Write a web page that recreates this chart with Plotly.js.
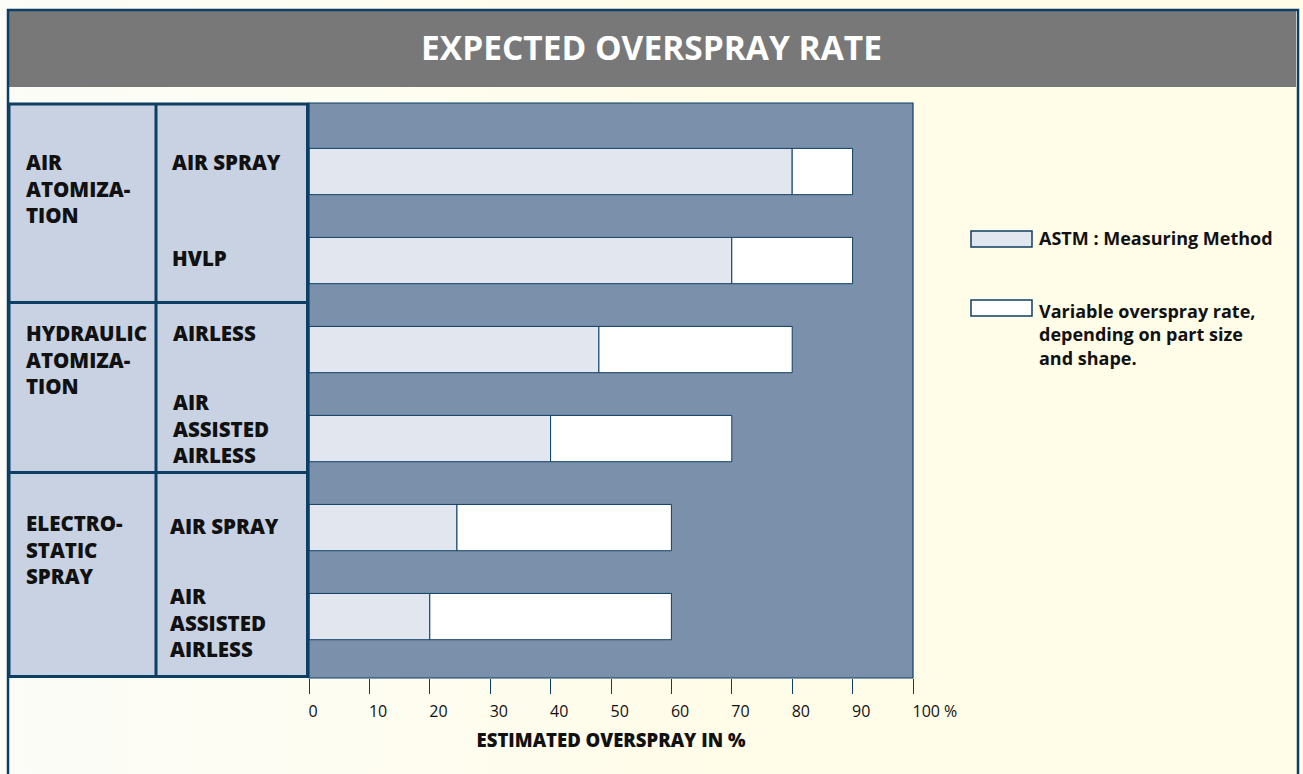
<!DOCTYPE html>
<html>
<head>
<meta charset="utf-8">
<script src="https://cdn.plot.ly/plotly-3.0.1.min.js"></script>
<style>
  html, body { margin: 0; padding: 0; }
  #chart { width: 1303px; height: 774px;
    background: linear-gradient(to right, #fcfcf8 0%, #fdfdf3 20%, #fffce8 55%, #fffce8 100%); }
</style>
</head>
<body>
<div id="chart"></div>
<script>
// ---- data ----
const groups = ["AIR<br>ATOMIZA-<br>TION", "HYDRAULIC<br>ATOMIZA-<br>TION", "ELECTRO-<br>STATIC<br>SPRAY"];
const methods = ["AIR SPRAY", "HVLP", "AIRLESS", "AIR<br>ASSISTED<br>AIRLESS", "AIR SPRAY", "AIR<br>ASSISTED<br>AIRLESS"];
const methodGroup = [0, 0, 1, 1, 2, 2];
const astmRate = [80, 70, 48, 40, 24.5, 20];          // ASTM : Measuring Method
const maxRate = [90, 90, 80, 70, 60, 60];             // upper end of variable rate
const tickValues = [0, 10, 20, 30, 40, 50, 60, 70, 80, 90, 100];
const tickLabels = ["0", "10", "20", "30", "40", "50", "60", "70", "80", "90", "100 %"];
const legendLabels = ["ASTM : Measuring Method", "Variable overspray rate,<br>depending on part size<br>and shape."];
const chartTitle = "EXPECTED OVERSPRAY RATE";
const xTitle = "ESTIMATED OVERSPRAY IN %";

// ---- layout geometry (pixels) ----
const W = 1303, H = 774, L = 309, R = 913, T = 103, B = 678;
const px = v => (v - L) / (R - L);
const py = v => (B - v) / (B - T);
const NAVY = "#0d3e64", TABLE = "#c8d2e2", PLOTBG = "#7b91ab", LIGHT = "#e2e6ef";
const FONT = "Open Sans, Lato, sans-serif";

const keys = methods.map((m, i) => groups[methodGroup[i]].replace(/<br>/g, " ") + " | " + m.replace(/<br>/g, " "));
const variablePart = maxRate.map((v, i) => v - astmRate[i]);

const traces = [
  { type: "bar", orientation: "h", y: keys, x: astmRate, name: "ASTM",
    marker: { color: LIGHT, line: { color: NAVY, width: 1 } }, hoverinfo: "x" },
  { type: "bar", orientation: "h", y: keys, x: variablePart, base: astmRate, name: "Variable",
    marker: { color: "#ffffff", line: { color: NAVY, width: 1 } }, hoverinfo: "x" }
];

const rect = (x0, y0, x1, y1, fill, lineColor, lw, layer) => ({
  type: "rect", xref: "paper", yref: "paper", x0: px(x0), x1: px(x1), y0: py(y0), y1: py(y1),
  fillcolor: fill, line: { color: lineColor, width: lw }, layer: layer || "above" });
const line = (x0, y0, x1, y1, c, lw) => ({
  type: "line", xref: "paper", yref: "paper", x0: px(x0), x1: px(x1), y0: py(y0), y1: py(y1),
  line: { color: c, width: lw }, layer: "above" });

const shapes = [
  rect(9, 11, 1296, 87, "#787878", "rgba(0,0,0,0)", 0, "below"),
  rect(8, 10, 1298, 820, "rgba(0,0,0,0)", NAVY, 2.5),
  rect(L, T, R, B, "rgba(0,0,0,0)", NAVY, 1.2),
  rect(9, 104, 307.5, 676.5, TABLE, NAVY, 3),
  line(9, 302.5, 307.5, 302.5, NAVY, 3),
  line(9, 472.5, 307.5, 472.5, NAVY, 3),
  line(156, 104, 156, 676.5, NAVY, 3),
  rect(971, 231, 1032, 247, LIGHT, NAVY, 1.5),
  rect(971, 300, 1032, 316, "#ffffff", NAVY, 1.5)
];

const groupY = [188, 359, 549.5];
const methodY = [162, 258, 333, 429, 526, 622];
const methodX = [170, 170, 171, 171, 168, 168];
const ann = (text, x, y, size, weight) => ({
  text: text, xref: "paper", yref: "paper", x: px(x), y: py(y), xanchor: "left", yanchor: "middle",
  align: "left", showarrow: false, font: { family: FONT, size: size, color: "#111111", weight: weight || 700 } });

const annotations = [];
groups.forEach((g, i) => annotations.push(ann(g, 24, groupY[i], 20.5, 800)));
methods.forEach((m, i) => annotations.push(ann(m, methodX[i], methodY[i], 20.5, 800)));
annotations.push(ann(legendLabels[0], 1037, 238, 18, 700));
annotations.push(ann(legendLabels[1], 1037, 334, 18, 700));

const layout = {
  width: W, height: H,
  margin: { l: L, r: W - R, t: T, b: H - B, pad: 0 },
  paper_bgcolor: "rgba(0,0,0,0)", plot_bgcolor: PLOTBG,
  barmode: "overlay", bargap: 0.48, showlegend: false,
  title: { text: chartTitle, x: 0.5, xref: "container", y: 1 - 48 / H, yref: "container",
    xanchor: "center", yanchor: "middle", font: { family: FONT, size: 33.5, color: "#ffffff", weight: 700 } },
  xaxis: { range: [0, 100], tickvals: tickValues, ticktext: tickLabels, ticks: "outside", ticklen: 15,
    tickcolor: NAVY, tickwidth: 1, showgrid: false, zeroline: false, showline: false,
    ticklabelposition: "outside right", ticklabelstandoff: 19, ticklabelshift: -1,
    tickfont: { family: FONT, size: 16, color: "#111111" },
    title: { text: xTitle, standoff: 12, font: { family: FONT, size: 18.5, color: "#111111", weight: 800 } } },
  yaxis: { type: "category", range: [5.69, -0.77], showticklabels: false, showgrid: false,
    zeroline: false, ticks: "", fixedrange: true },
  shapes: shapes, annotations: annotations
};

Plotly.newPlot("chart", traces, layout, { displayModeBar: false, staticPlot: true });
</script>
</body>
</html>
